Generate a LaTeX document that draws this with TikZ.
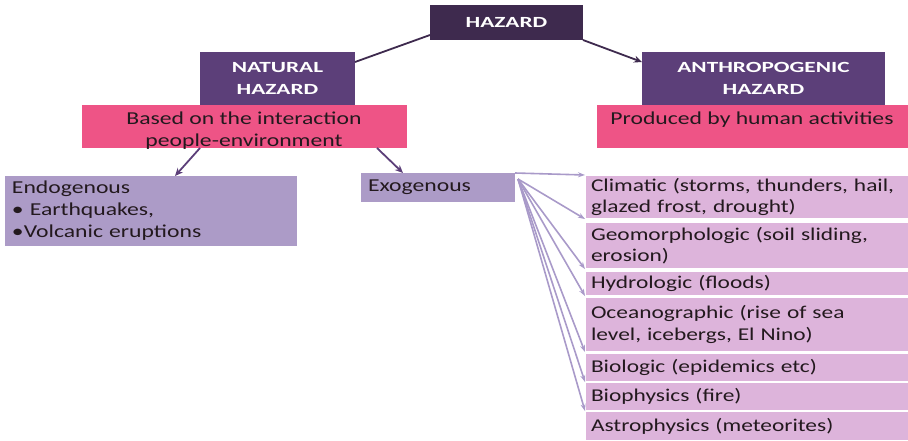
\documentclass[tikz,border=0pt]{standalone}
\usepackage{fontspec}
\setmainfont{Carlito}[FakeStretch=1.3]
\newfontfamily\titlefont{Carlito}[FakeStretch=1.5]
\usetikzlibrary{arrows.meta}
\definecolor{hzdark}{RGB}{62,42,78}
\definecolor{hzmid}{RGB}{92,63,121}
\definecolor{hzpink}{RGB}{238,84,134}
\definecolor{hzlav}{RGB}{172,155,199}
\definecolor{hzlight}{RGB}{221,180,219}
\definecolor{hzarrow}{RGB}{169,154,201}
\definecolor{hztext}{RGB}{35,25,30}
\begin{document}
\begin{tikzpicture}[x=1pt,y=-1pt,
  box/.style={rectangle, anchor=north west, inner sep=0pt, outer sep=0pt},
  titlebox/.style={box, fill=#1, text=white, align=center,
    font=\titlefont\bfseries\fontsize{15.5}{22}\selectfont},
  pinkbox/.style={box, fill=hzpink},
  txt/.style={inner sep=0pt, text=hztext, font=\fontsize{18.2}{22}\selectfont},
  lavbox/.style={box, fill=hzlav, text=hztext, align=left, inner xsep=7pt,
    font=\fontsize{18.2}{22}\selectfont},
  itembox/.style={box, fill=hzlight, draw=white, line width=1.2pt, text=hztext,
    align=left, inner xsep=6pt, text width=316pt, minimum width=323pt,
    font=\fontsize{18}{21.5}\selectfont},
  darrow/.style={draw=hzdark, line width=1.8pt, -{Stealth[length=8pt,width=7pt]}},
  marrow/.style={draw=hzmid, line width=1.8pt, -{Stealth[length=8pt,width=7pt]}},
  farrow/.style={draw=hzarrow, line width=1.6pt, -{Stealth[length=7pt,width=5pt]}}
]
\useasboundingbox (0,0) rectangle (908,440);

% top level
\node[titlebox=hzdark, minimum width=153pt, minimum height=35pt] (hazard) at (430,5) {HAZARD};
\node[titlebox=hzmid, minimum width=155pt, minimum height=53pt] (natural) at (200,52) {NATURAL\\HAZARD};
\node[titlebox=hzmid, minimum width=243pt, minimum height=53pt] (anthro) at (642,52) {ANTHROPOGENIC\\HAZARD};

% pink boxes
\node[pinkbox, minimum width=325pt, minimum height=43pt] (based) at (82,105) {};
\node[txt, align=center] (basedtxt) at (244,131) {Based on the interaction\\people-environment};
\node[pinkbox, minimum width=311pt, minimum height=43pt] (produced) at (597,105) {};
\node[txt] (producedtxt) at (752,120) {Produced by human activities};

% second level
\node[lavbox, minimum width=292pt, minimum height=70pt, text width=278pt] (endo) at (5,176)
  {Endogenous\\• Earthquakes,\\•Volcanic eruptions};
\node[lavbox, minimum width=154pt, minimum height=29pt, text width=140pt] (exo) at (361,173) {Exogenous};

% right column
\node[itembox, minimum height=44pt] (clim) at (585,175) {Climatic (storms, thunders, hail,\\glazed frost, drought)};
\node[itembox, minimum height=47pt] (geo) at (585,222) {Geomorphologic (soil sliding,\\erosion)};
\node[itembox, minimum height=25pt] (hydro) at (585,271) {Hydrologic (floods)};
\node[itembox, minimum height=55pt] (ocean) at (585,297) {Oceanographic (rise of sea\\level, icebergs, El Nino)};
\node[itembox, minimum height=29pt] (bio) at (585,353) {Biologic (epidemics etc)};
\node[itembox, minimum height=29pt] (biophys) at (585,382) {Biophysics (fire)};
\node[itembox, minimum height=30pt] (astro) at (585,411) {Astrophysics (meteorites)};

% connectors
\draw[draw=hzdark, line width=1.8pt] (hazard.south west) ++(0,-5) coordinate (hzl) -- (natural.north east |- 0,62) coordinate (natend);
\draw[darrow] (hazard.south east) -- (anthro.north west |- 0,62);
\draw[marrow] (200,148) -- (endo.north -| 175,0);
\draw[marrow] (377,148) -- (exo.north -| 403,0);

\coordinate (fan) at (518,179);
\draw[farrow] (exo.north east) -- (clim.north west);
\draw[farrow] (fan) -- (clim.south west);
\draw[farrow] (fan) -- (geo.south west);
\draw[farrow] (fan) -- (hydro.south west);
\draw[farrow] (fan) -- (ocean.south west);
\draw[farrow] (fan) -- (bio.south west);
\draw[farrow] (fan) -- (biophys.south west);
\end{tikzpicture}
\end{document}
